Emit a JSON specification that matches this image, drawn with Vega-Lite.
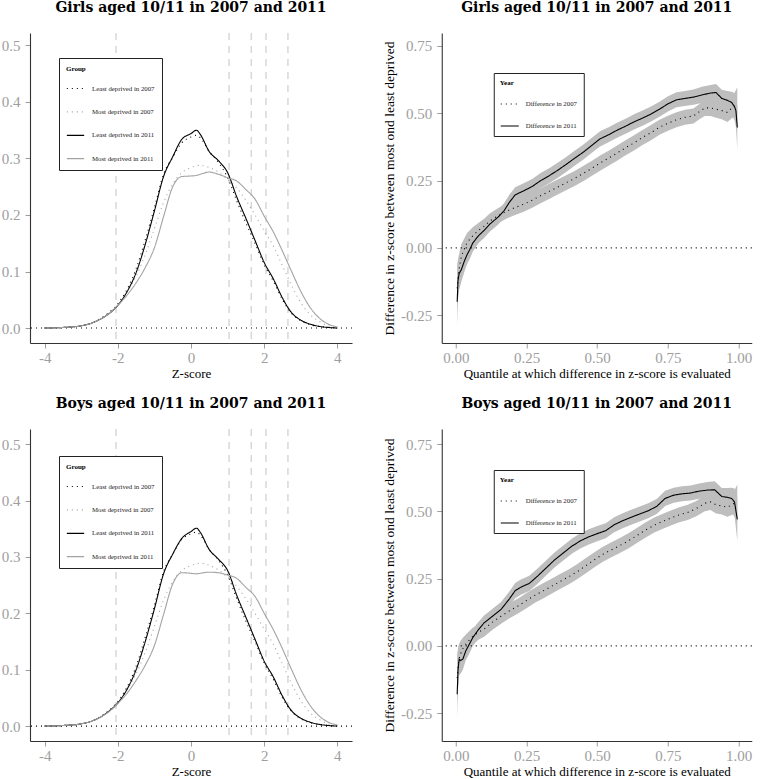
{
"$schema": "https://vega.github.io/schema/vega-lite/v6.json",
"padding": {"left": 1, "top": 0, "right": 0, "bottom": 0},
"spacing": 16,
"datasets": {
"gd": [
{"g":"Least deprived in 2007","z":-4,"d":0},{"g":"Least deprived in 2007","z":-3.5,"d":0.001},{"g":"Least deprived in 2007","z":-3,"d":0.004},{"g":"Least deprived in 2007","z":-2.75,"d":0.008},{"g":"Least deprived in 2007","z":-2.5,"d":0.016},{"g":"Least deprived in 2007","z":-2.25,"d":0.027},{"g":"Least deprived in 2007","z":-2,"d":0.043},{"g":"Least deprived in 2007","z":-1.75,"d":0.068},{"g":"Least deprived in 2007","z":-1.5,"d":0.105},{"g":"Least deprived in 2007","z":-1.25,"d":0.156},{"g":"Least deprived in 2007","z":-1,"d":0.213},{"g":"Least deprived in 2007","z":-0.75,"d":0.272},{"g":"Least deprived in 2007","z":-0.5,"d":0.302},{"g":"Least deprived in 2007","z":-0.25,"d":0.328},{"g":"Least deprived in 2007","z":0,"d":0.338},{"g":"Least deprived in 2007","z":0.15,"d":0.341},{"g":"Least deprived in 2007","z":0.25,"d":0.337},{"g":"Least deprived in 2007","z":0.5,"d":0.312},{"g":"Least deprived in 2007","z":0.75,"d":0.293},{"g":"Least deprived in 2007","z":1,"d":0.266},{"g":"Least deprived in 2007","z":1.25,"d":0.225},{"g":"Least deprived in 2007","z":1.5,"d":0.186},{"g":"Least deprived in 2007","z":1.75,"d":0.15},{"g":"Least deprived in 2007","z":2,"d":0.112},{"g":"Least deprived in 2007","z":2.25,"d":0.083},{"g":"Least deprived in 2007","z":2.5,"d":0.05},{"g":"Least deprived in 2007","z":2.75,"d":0.026},{"g":"Least deprived in 2007","z":3,"d":0.013},{"g":"Least deprived in 2007","z":3.25,"d":0.006},{"g":"Least deprived in 2007","z":3.5,"d":0.003},{"g":"Least deprived in 2007","z":3.75,"d":0.001},{"g":"Least deprived in 2007","z":4,"d":0},
{"g":"Most deprived in 2007","z":-4,"d":0},{"g":"Most deprived in 2007","z":-3.5,"d":0.001},{"g":"Most deprived in 2007","z":-3,"d":0.004},{"g":"Most deprived in 2007","z":-2.75,"d":0.008},{"g":"Most deprived in 2007","z":-2.5,"d":0.016},{"g":"Most deprived in 2007","z":-2.25,"d":0.026},{"g":"Most deprived in 2007","z":-2,"d":0.042},{"g":"Most deprived in 2007","z":-1.75,"d":0.063},{"g":"Most deprived in 2007","z":-1.5,"d":0.092},{"g":"Most deprived in 2007","z":-1.25,"d":0.13},{"g":"Most deprived in 2007","z":-1,"d":0.176},{"g":"Most deprived in 2007","z":-0.75,"d":0.222},{"g":"Most deprived in 2007","z":-0.5,"d":0.255},{"g":"Most deprived in 2007","z":-0.25,"d":0.275},{"g":"Most deprived in 2007","z":0,"d":0.284},{"g":"Most deprived in 2007","z":0.15,"d":0.287},{"g":"Most deprived in 2007","z":0.25,"d":0.288},{"g":"Most deprived in 2007","z":0.5,"d":0.284},{"g":"Most deprived in 2007","z":0.75,"d":0.276},{"g":"Most deprived in 2007","z":1,"d":0.263},{"g":"Most deprived in 2007","z":1.25,"d":0.248},{"g":"Most deprived in 2007","z":1.5,"d":0.226},{"g":"Most deprived in 2007","z":1.75,"d":0.2},{"g":"Most deprived in 2007","z":2,"d":0.172},{"g":"Most deprived in 2007","z":2.25,"d":0.145},{"g":"Most deprived in 2007","z":2.5,"d":0.11},{"g":"Most deprived in 2007","z":2.75,"d":0.075},{"g":"Most deprived in 2007","z":3,"d":0.045},{"g":"Most deprived in 2007","z":3.25,"d":0.024},{"g":"Most deprived in 2007","z":3.5,"d":0.012},{"g":"Most deprived in 2007","z":3.75,"d":0.004},{"g":"Most deprived in 2007","z":4,"d":0.001},
{"g":"Least deprived in 2011","z":-4,"d":0},{"g":"Least deprived in 2011","z":-3.5,"d":0.001},{"g":"Least deprived in 2011","z":-3,"d":0.004},{"g":"Least deprived in 2011","z":-2.75,"d":0.008},{"g":"Least deprived in 2011","z":-2.5,"d":0.015},{"g":"Least deprived in 2011","z":-2.25,"d":0.025},{"g":"Least deprived in 2011","z":-2,"d":0.04},{"g":"Least deprived in 2011","z":-1.75,"d":0.064},{"g":"Least deprived in 2011","z":-1.5,"d":0.098},{"g":"Least deprived in 2011","z":-1.25,"d":0.148},{"g":"Least deprived in 2011","z":-1,"d":0.207},{"g":"Least deprived in 2011","z":-0.75,"d":0.268},{"g":"Least deprived in 2011","z":-0.5,"d":0.303},{"g":"Least deprived in 2011","z":-0.25,"d":0.334},{"g":"Least deprived in 2011","z":0,"d":0.344},{"g":"Least deprived in 2011","z":0.15,"d":0.35},{"g":"Least deprived in 2011","z":0.25,"d":0.343},{"g":"Least deprived in 2011","z":0.5,"d":0.312},{"g":"Least deprived in 2011","z":0.75,"d":0.296},{"g":"Least deprived in 2011","z":1,"d":0.275},{"g":"Least deprived in 2011","z":1.25,"d":0.232},{"g":"Least deprived in 2011","z":1.5,"d":0.194},{"g":"Least deprived in 2011","z":1.75,"d":0.155},{"g":"Least deprived in 2011","z":2,"d":0.116},{"g":"Least deprived in 2011","z":2.25,"d":0.087},{"g":"Least deprived in 2011","z":2.5,"d":0.053},{"g":"Least deprived in 2011","z":2.75,"d":0.027},{"g":"Least deprived in 2011","z":3,"d":0.014},{"g":"Least deprived in 2011","z":3.25,"d":0.007},{"g":"Least deprived in 2011","z":3.5,"d":0.003},{"g":"Least deprived in 2011","z":3.75,"d":0.001},{"g":"Least deprived in 2011","z":4,"d":0},
{"g":"Most deprived in 2011","z":-4,"d":0},{"g":"Most deprived in 2011","z":-3.5,"d":0.001},{"g":"Most deprived in 2011","z":-3,"d":0.004},{"g":"Most deprived in 2011","z":-2.75,"d":0.008},{"g":"Most deprived in 2011","z":-2.5,"d":0.015},{"g":"Most deprived in 2011","z":-2.25,"d":0.025},{"g":"Most deprived in 2011","z":-2,"d":0.04},{"g":"Most deprived in 2011","z":-1.75,"d":0.058},{"g":"Most deprived in 2011","z":-1.5,"d":0.08},{"g":"Most deprived in 2011","z":-1.25,"d":0.107},{"g":"Most deprived in 2011","z":-1,"d":0.142},{"g":"Most deprived in 2011","z":-0.75,"d":0.197},{"g":"Most deprived in 2011","z":-0.5,"d":0.25},{"g":"Most deprived in 2011","z":-0.25,"d":0.268},{"g":"Most deprived in 2011","z":0,"d":0.269},{"g":"Most deprived in 2011","z":0.15,"d":0.27},{"g":"Most deprived in 2011","z":0.25,"d":0.272},{"g":"Most deprived in 2011","z":0.5,"d":0.276},{"g":"Most deprived in 2011","z":0.75,"d":0.272},{"g":"Most deprived in 2011","z":1,"d":0.266},{"g":"Most deprived in 2011","z":1.25,"d":0.26},{"g":"Most deprived in 2011","z":1.5,"d":0.245},{"g":"Most deprived in 2011","z":1.75,"d":0.228},{"g":"Most deprived in 2011","z":2,"d":0.198},{"g":"Most deprived in 2011","z":2.25,"d":0.17},{"g":"Most deprived in 2011","z":2.5,"d":0.136},{"g":"Most deprived in 2011","z":2.75,"d":0.1},{"g":"Most deprived in 2011","z":3,"d":0.065},{"g":"Most deprived in 2011","z":3.25,"d":0.037},{"g":"Most deprived in 2011","z":3.5,"d":0.018},{"g":"Most deprived in 2011","z":3.75,"d":0.007},{"g":"Most deprived in 2011","z":4,"d":0.002}
],
"bd": [
{"g":"Least deprived in 2007","z":-4,"d":0},{"g":"Least deprived in 2007","z":-3.5,"d":0.001},{"g":"Least deprived in 2007","z":-3,"d":0.004},{"g":"Least deprived in 2007","z":-2.75,"d":0.008},{"g":"Least deprived in 2007","z":-2.5,"d":0.016},{"g":"Least deprived in 2007","z":-2.25,"d":0.027},{"g":"Least deprived in 2007","z":-2,"d":0.044},{"g":"Least deprived in 2007","z":-1.75,"d":0.069},{"g":"Least deprived in 2007","z":-1.5,"d":0.106},{"g":"Least deprived in 2007","z":-1.25,"d":0.158},{"g":"Least deprived in 2007","z":-1,"d":0.214},{"g":"Least deprived in 2007","z":-0.75,"d":0.274},{"g":"Least deprived in 2007","z":-0.5,"d":0.305},{"g":"Least deprived in 2007","z":-0.25,"d":0.331},{"g":"Least deprived in 2007","z":0,"d":0.341},{"g":"Least deprived in 2007","z":0.15,"d":0.344},{"g":"Least deprived in 2007","z":0.25,"d":0.339},{"g":"Least deprived in 2007","z":0.5,"d":0.313},{"g":"Least deprived in 2007","z":0.75,"d":0.294},{"g":"Least deprived in 2007","z":1,"d":0.268},{"g":"Least deprived in 2007","z":1.25,"d":0.226},{"g":"Least deprived in 2007","z":1.5,"d":0.186},{"g":"Least deprived in 2007","z":1.75,"d":0.15},{"g":"Least deprived in 2007","z":2,"d":0.112},{"g":"Least deprived in 2007","z":2.25,"d":0.083},{"g":"Least deprived in 2007","z":2.5,"d":0.05},{"g":"Least deprived in 2007","z":2.75,"d":0.026},{"g":"Least deprived in 2007","z":3,"d":0.013},{"g":"Least deprived in 2007","z":3.25,"d":0.006},{"g":"Least deprived in 2007","z":3.5,"d":0.003},{"g":"Least deprived in 2007","z":3.75,"d":0.001},{"g":"Least deprived in 2007","z":4,"d":0},
{"g":"Most deprived in 2007","z":-4,"d":0},{"g":"Most deprived in 2007","z":-3.5,"d":0.001},{"g":"Most deprived in 2007","z":-3,"d":0.004},{"g":"Most deprived in 2007","z":-2.75,"d":0.008},{"g":"Most deprived in 2007","z":-2.5,"d":0.016},{"g":"Most deprived in 2007","z":-2.25,"d":0.027},{"g":"Most deprived in 2007","z":-2,"d":0.043},{"g":"Most deprived in 2007","z":-1.75,"d":0.064},{"g":"Most deprived in 2007","z":-1.5,"d":0.093},{"g":"Most deprived in 2007","z":-1.25,"d":0.131},{"g":"Most deprived in 2007","z":-1,"d":0.177},{"g":"Most deprived in 2007","z":-0.75,"d":0.223},{"g":"Most deprived in 2007","z":-0.5,"d":0.256},{"g":"Most deprived in 2007","z":-0.25,"d":0.276},{"g":"Most deprived in 2007","z":0,"d":0.285},{"g":"Most deprived in 2007","z":0.15,"d":0.288},{"g":"Most deprived in 2007","z":0.25,"d":0.289},{"g":"Most deprived in 2007","z":0.5,"d":0.285},{"g":"Most deprived in 2007","z":0.75,"d":0.277},{"g":"Most deprived in 2007","z":1,"d":0.264},{"g":"Most deprived in 2007","z":1.25,"d":0.248},{"g":"Most deprived in 2007","z":1.5,"d":0.226},{"g":"Most deprived in 2007","z":1.75,"d":0.2},{"g":"Most deprived in 2007","z":2,"d":0.172},{"g":"Most deprived in 2007","z":2.25,"d":0.145},{"g":"Most deprived in 2007","z":2.5,"d":0.11},{"g":"Most deprived in 2007","z":2.75,"d":0.075},{"g":"Most deprived in 2007","z":3,"d":0.045},{"g":"Most deprived in 2007","z":3.25,"d":0.024},{"g":"Most deprived in 2007","z":3.5,"d":0.012},{"g":"Most deprived in 2007","z":3.75,"d":0.004},{"g":"Most deprived in 2007","z":4,"d":0.001},
{"g":"Least deprived in 2011","z":-4,"d":0},{"g":"Least deprived in 2011","z":-3.5,"d":0.001},{"g":"Least deprived in 2011","z":-3,"d":0.004},{"g":"Least deprived in 2011","z":-2.75,"d":0.008},{"g":"Least deprived in 2011","z":-2.5,"d":0.015},{"g":"Least deprived in 2011","z":-2.25,"d":0.026},{"g":"Least deprived in 2011","z":-2,"d":0.041},{"g":"Least deprived in 2011","z":-1.75,"d":0.065},{"g":"Least deprived in 2011","z":-1.5,"d":0.1},{"g":"Least deprived in 2011","z":-1.25,"d":0.15},{"g":"Least deprived in 2011","z":-1,"d":0.208},{"g":"Least deprived in 2011","z":-0.75,"d":0.27},{"g":"Least deprived in 2011","z":-0.5,"d":0.305},{"g":"Least deprived in 2011","z":-0.25,"d":0.333},{"g":"Least deprived in 2011","z":0,"d":0.345},{"g":"Least deprived in 2011","z":0.15,"d":0.351},{"g":"Least deprived in 2011","z":0.25,"d":0.344},{"g":"Least deprived in 2011","z":0.5,"d":0.313},{"g":"Least deprived in 2011","z":0.75,"d":0.296},{"g":"Least deprived in 2011","z":1,"d":0.276},{"g":"Least deprived in 2011","z":1.25,"d":0.232},{"g":"Least deprived in 2011","z":1.5,"d":0.193},{"g":"Least deprived in 2011","z":1.75,"d":0.154},{"g":"Least deprived in 2011","z":2,"d":0.115},{"g":"Least deprived in 2011","z":2.25,"d":0.087},{"g":"Least deprived in 2011","z":2.5,"d":0.053},{"g":"Least deprived in 2011","z":2.75,"d":0.027},{"g":"Least deprived in 2011","z":3,"d":0.014},{"g":"Least deprived in 2011","z":3.25,"d":0.007},{"g":"Least deprived in 2011","z":3.5,"d":0.003},{"g":"Least deprived in 2011","z":3.75,"d":0.001},{"g":"Least deprived in 2011","z":4,"d":0},
{"g":"Most deprived in 2011","z":-4,"d":0},{"g":"Most deprived in 2011","z":-3.5,"d":0.001},{"g":"Most deprived in 2011","z":-3,"d":0.004},{"g":"Most deprived in 2011","z":-2.75,"d":0.008},{"g":"Most deprived in 2011","z":-2.5,"d":0.015},{"g":"Most deprived in 2011","z":-2.25,"d":0.025},{"g":"Most deprived in 2011","z":-2,"d":0.04},{"g":"Most deprived in 2011","z":-1.75,"d":0.058},{"g":"Most deprived in 2011","z":-1.5,"d":0.081},{"g":"Most deprived in 2011","z":-1.25,"d":0.108},{"g":"Most deprived in 2011","z":-1,"d":0.143},{"g":"Most deprived in 2011","z":-0.75,"d":0.198},{"g":"Most deprived in 2011","z":-0.5,"d":0.252},{"g":"Most deprived in 2011","z":-0.25,"d":0.272},{"g":"Most deprived in 2011","z":0,"d":0.271},{"g":"Most deprived in 2011","z":0.15,"d":0.27},{"g":"Most deprived in 2011","z":0.25,"d":0.271},{"g":"Most deprived in 2011","z":0.5,"d":0.273},{"g":"Most deprived in 2011","z":0.75,"d":0.272},{"g":"Most deprived in 2011","z":1,"d":0.268},{"g":"Most deprived in 2011","z":1.25,"d":0.262},{"g":"Most deprived in 2011","z":1.5,"d":0.246},{"g":"Most deprived in 2011","z":1.75,"d":0.23},{"g":"Most deprived in 2011","z":2,"d":0.2},{"g":"Most deprived in 2011","z":2.25,"d":0.171},{"g":"Most deprived in 2011","z":2.5,"d":0.137},{"g":"Most deprived in 2011","z":2.75,"d":0.1},{"g":"Most deprived in 2011","z":3,"d":0.065},{"g":"Most deprived in 2011","z":3.25,"d":0.037},{"g":"Most deprived in 2011","z":3.5,"d":0.018},{"g":"Most deprived in 2011","z":3.75,"d":0.007},{"g":"Most deprived in 2011","z":4,"d":0.002}
],
"gq": [
{"yr":"Difference in 2007","q":0.005,"v":-0.15,"lo":-0.24,"hi":-0.06},{"yr":"Difference in 2007","q":0.01,"v":-0.09,"lo":-0.15,"hi":-0.03},{"yr":"Difference in 2007","q":0.015,"v":-0.06,"lo":-0.11,"hi":-0.01},{"yr":"Difference in 2007","q":0.02,"v":-0.03,"lo":-0.075,"hi":0.015},{"yr":"Difference in 2007","q":0.03,"v":-0.005,"lo":-0.045,"hi":0.035},{"yr":"Difference in 2007","q":0.04,"v":0.02,"lo":-0.015,"hi":0.055},{"yr":"Difference in 2007","q":0.06,"v":0.045,"lo":0.013,"hi":0.077},{"yr":"Difference in 2007","q":0.08,"v":0.065,"lo":0.037,"hi":0.093},{"yr":"Difference in 2007","q":0.1,"v":0.08,"lo":0.052,"hi":0.108},{"yr":"Difference in 2007","q":0.12,"v":0.1,"lo":0.072,"hi":0.128},{"yr":"Difference in 2007","q":0.15,"v":0.12,"lo":0.092,"hi":0.148},{"yr":"Difference in 2007","q":0.18,"v":0.137,"lo":0.109,"hi":0.165},{"yr":"Difference in 2007","q":0.21,"v":0.15,"lo":0.122,"hi":0.178},{"yr":"Difference in 2007","q":0.24,"v":0.162,"lo":0.134,"hi":0.19},{"yr":"Difference in 2007","q":0.27,"v":0.177,"lo":0.149,"hi":0.205},{"yr":"Difference in 2007","q":0.3,"v":0.194,"lo":0.166,"hi":0.222},{"yr":"Difference in 2007","q":0.33,"v":0.21,"lo":0.182,"hi":0.238},{"yr":"Difference in 2007","q":0.36,"v":0.226,"lo":0.198,"hi":0.254},{"yr":"Difference in 2007","q":0.39,"v":0.242,"lo":0.214,"hi":0.27},{"yr":"Difference in 2007","q":0.42,"v":0.258,"lo":0.23,"hi":0.286},{"yr":"Difference in 2007","q":0.45,"v":0.276,"lo":0.248,"hi":0.304},{"yr":"Difference in 2007","q":0.48,"v":0.295,"lo":0.267,"hi":0.323},{"yr":"Difference in 2007","q":0.51,"v":0.315,"lo":0.287,"hi":0.343},{"yr":"Difference in 2007","q":0.54,"v":0.333,"lo":0.305,"hi":0.361},{"yr":"Difference in 2007","q":0.57,"v":0.352,"lo":0.324,"hi":0.38},{"yr":"Difference in 2007","q":0.6,"v":0.372,"lo":0.344,"hi":0.4},{"yr":"Difference in 2007","q":0.63,"v":0.39,"lo":0.362,"hi":0.418},{"yr":"Difference in 2007","q":0.66,"v":0.41,"lo":0.382,"hi":0.438},{"yr":"Difference in 2007","q":0.69,"v":0.428,"lo":0.4,"hi":0.456},{"yr":"Difference in 2007","q":0.72,"v":0.448,"lo":0.42,"hi":0.476},{"yr":"Difference in 2007","q":0.75,"v":0.463,"lo":0.435,"hi":0.491},{"yr":"Difference in 2007","q":0.78,"v":0.476,"lo":0.448,"hi":0.504},{"yr":"Difference in 2007","q":0.81,"v":0.485,"lo":0.457,"hi":0.513},{"yr":"Difference in 2007","q":0.84,"v":0.49,"lo":0.462,"hi":0.518},{"yr":"Difference in 2007","q":0.86,"v":0.505,"lo":0.477,"hi":0.533},{"yr":"Difference in 2007","q":0.88,"v":0.52,"lo":0.49,"hi":0.55},{"yr":"Difference in 2007","q":0.9,"v":0.52,"lo":0.49,"hi":0.55},{"yr":"Difference in 2007","q":0.92,"v":0.515,"lo":0.483,"hi":0.547},{"yr":"Difference in 2007","q":0.94,"v":0.51,"lo":0.478,"hi":0.542},{"yr":"Difference in 2007","q":0.96,"v":0.503,"lo":0.468,"hi":0.538},{"yr":"Difference in 2007","q":0.98,"v":0.525,"lo":0.485,"hi":0.565},{"yr":"Difference in 2007","q":0.995,"v":0.527,"lo":0.457,"hi":0.597},
{"yr":"Difference in 2011","q":0.005,"v":-0.2,"lo":-0.29,"hi":-0.11},{"yr":"Difference in 2011","q":0.008,"v":-0.12,"lo":-0.19,"hi":-0.05},{"yr":"Difference in 2011","q":0.012,"v":-0.095,"lo":-0.155,"hi":-0.035},{"yr":"Difference in 2011","q":0.02,"v":-0.08,"lo":-0.125,"hi":-0.035},{"yr":"Difference in 2011","q":0.03,"v":-0.05,"lo":-0.09,"hi":-0.01},{"yr":"Difference in 2011","q":0.04,"v":-0.025,"lo":-0.06,"hi":0.01},{"yr":"Difference in 2011","q":0.05,"v":-0.005,"lo":-0.04,"hi":0.03},{"yr":"Difference in 2011","q":0.06,"v":0.018,"lo":-0.014,"hi":0.05},{"yr":"Difference in 2011","q":0.08,"v":0.045,"lo":0.017,"hi":0.073},{"yr":"Difference in 2011","q":0.1,"v":0.065,"lo":0.037,"hi":0.093},{"yr":"Difference in 2011","q":0.12,"v":0.088,"lo":0.06,"hi":0.116},{"yr":"Difference in 2011","q":0.15,"v":0.115,"lo":0.087,"hi":0.143},{"yr":"Difference in 2011","q":0.17,"v":0.137,"lo":0.109,"hi":0.165},{"yr":"Difference in 2011","q":0.19,"v":0.17,"lo":0.142,"hi":0.198},{"yr":"Difference in 2011","q":0.21,"v":0.197,"lo":0.169,"hi":0.225},{"yr":"Difference in 2011","q":0.24,"v":0.212,"lo":0.184,"hi":0.24},{"yr":"Difference in 2011","q":0.27,"v":0.228,"lo":0.2,"hi":0.256},{"yr":"Difference in 2011","q":0.3,"v":0.25,"lo":0.222,"hi":0.278},{"yr":"Difference in 2011","q":0.33,"v":0.268,"lo":0.24,"hi":0.296},{"yr":"Difference in 2011","q":0.36,"v":0.288,"lo":0.26,"hi":0.316},{"yr":"Difference in 2011","q":0.39,"v":0.31,"lo":0.282,"hi":0.338},{"yr":"Difference in 2011","q":0.42,"v":0.333,"lo":0.305,"hi":0.361},{"yr":"Difference in 2011","q":0.45,"v":0.355,"lo":0.327,"hi":0.383},{"yr":"Difference in 2011","q":0.48,"v":0.38,"lo":0.352,"hi":0.408},{"yr":"Difference in 2011","q":0.51,"v":0.405,"lo":0.377,"hi":0.433},{"yr":"Difference in 2011","q":0.54,"v":0.42,"lo":0.392,"hi":0.448},{"yr":"Difference in 2011","q":0.57,"v":0.437,"lo":0.409,"hi":0.465},{"yr":"Difference in 2011","q":0.6,"v":0.452,"lo":0.424,"hi":0.48},{"yr":"Difference in 2011","q":0.63,"v":0.468,"lo":0.44,"hi":0.496},{"yr":"Difference in 2011","q":0.66,"v":0.482,"lo":0.454,"hi":0.51},{"yr":"Difference in 2011","q":0.69,"v":0.497,"lo":0.469,"hi":0.525},{"yr":"Difference in 2011","q":0.72,"v":0.515,"lo":0.487,"hi":0.543},{"yr":"Difference in 2011","q":0.75,"v":0.535,"lo":0.507,"hi":0.563},{"yr":"Difference in 2011","q":0.78,"v":0.55,"lo":0.522,"hi":0.578},{"yr":"Difference in 2011","q":0.81,"v":0.555,"lo":0.527,"hi":0.583},{"yr":"Difference in 2011","q":0.84,"v":0.56,"lo":0.532,"hi":0.588},{"yr":"Difference in 2011","q":0.87,"v":0.568,"lo":0.538,"hi":0.598},{"yr":"Difference in 2011","q":0.9,"v":0.575,"lo":0.545,"hi":0.605},{"yr":"Difference in 2011","q":0.92,"v":0.577,"lo":0.545,"hi":0.609},{"yr":"Difference in 2011","q":0.94,"v":0.555,"lo":0.523,"hi":0.587},{"yr":"Difference in 2011","q":0.96,"v":0.548,"lo":0.513,"hi":0.583},{"yr":"Difference in 2011","q":0.975,"v":0.54,"lo":0.5,"hi":0.58},{"yr":"Difference in 2011","q":0.985,"v":0.525,"lo":0.475,"hi":0.575},{"yr":"Difference in 2011","q":0.99,"v":0.51,"lo":0.45,"hi":0.57},{"yr":"Difference in 2011","q":0.995,"v":0.447,"lo":0.367,"hi":0.527}
],
"bq": [
{"yr":"Difference in 2007","q":0.005,"v":-0.12,"lo":-0.21,"hi":-0.03},{"yr":"Difference in 2007","q":0.01,"v":-0.06,"lo":-0.12,"hi":0},{"yr":"Difference in 2007","q":0.015,"v":-0.035,"lo":-0.085,"hi":0.015},{"yr":"Difference in 2007","q":0.025,"v":-0.01,"lo":-0.05,"hi":0.03},{"yr":"Difference in 2007","q":0.04,"v":0.012,"lo":-0.023,"hi":0.047},{"yr":"Difference in 2007","q":0.06,"v":0.035,"lo":0.003,"hi":0.067},{"yr":"Difference in 2007","q":0.08,"v":0.05,"lo":0.022,"hi":0.078},{"yr":"Difference in 2007","q":0.1,"v":0.062,"lo":0.034,"hi":0.09},{"yr":"Difference in 2007","q":0.13,"v":0.088,"lo":0.06,"hi":0.116},{"yr":"Difference in 2007","q":0.16,"v":0.11,"lo":0.082,"hi":0.138},{"yr":"Difference in 2007","q":0.19,"v":0.13,"lo":0.102,"hi":0.158},{"yr":"Difference in 2007","q":0.22,"v":0.148,"lo":0.12,"hi":0.176},{"yr":"Difference in 2007","q":0.25,"v":0.168,"lo":0.14,"hi":0.196},{"yr":"Difference in 2007","q":0.28,"v":0.188,"lo":0.16,"hi":0.216},{"yr":"Difference in 2007","q":0.31,"v":0.205,"lo":0.177,"hi":0.233},{"yr":"Difference in 2007","q":0.34,"v":0.222,"lo":0.194,"hi":0.25},{"yr":"Difference in 2007","q":0.37,"v":0.24,"lo":0.212,"hi":0.268},{"yr":"Difference in 2007","q":0.4,"v":0.257,"lo":0.229,"hi":0.285},{"yr":"Difference in 2007","q":0.43,"v":0.276,"lo":0.248,"hi":0.304},{"yr":"Difference in 2007","q":0.46,"v":0.298,"lo":0.27,"hi":0.326},{"yr":"Difference in 2007","q":0.49,"v":0.32,"lo":0.292,"hi":0.348},{"yr":"Difference in 2007","q":0.52,"v":0.34,"lo":0.312,"hi":0.368},{"yr":"Difference in 2007","q":0.55,"v":0.357,"lo":0.329,"hi":0.385},{"yr":"Difference in 2007","q":0.58,"v":0.373,"lo":0.345,"hi":0.401},{"yr":"Difference in 2007","q":0.61,"v":0.39,"lo":0.362,"hi":0.418},{"yr":"Difference in 2007","q":0.64,"v":0.41,"lo":0.382,"hi":0.438},{"yr":"Difference in 2007","q":0.67,"v":0.43,"lo":0.402,"hi":0.458},{"yr":"Difference in 2007","q":0.7,"v":0.448,"lo":0.42,"hi":0.476},{"yr":"Difference in 2007","q":0.73,"v":0.462,"lo":0.434,"hi":0.49},{"yr":"Difference in 2007","q":0.76,"v":0.475,"lo":0.447,"hi":0.503},{"yr":"Difference in 2007","q":0.79,"v":0.487,"lo":0.459,"hi":0.515},{"yr":"Difference in 2007","q":0.82,"v":0.496,"lo":0.468,"hi":0.524},{"yr":"Difference in 2007","q":0.85,"v":0.51,"lo":0.482,"hi":0.538},{"yr":"Difference in 2007","q":0.88,"v":0.53,"lo":0.5,"hi":0.56},{"yr":"Difference in 2007","q":0.9,"v":0.535,"lo":0.505,"hi":0.565},{"yr":"Difference in 2007","q":0.92,"v":0.524,"lo":0.492,"hi":0.556},{"yr":"Difference in 2007","q":0.94,"v":0.52,"lo":0.488,"hi":0.552},{"yr":"Difference in 2007","q":0.96,"v":0.515,"lo":0.48,"hi":0.55},{"yr":"Difference in 2007","q":0.98,"v":0.528,"lo":0.488,"hi":0.568},{"yr":"Difference in 2007","q":0.995,"v":0.53,"lo":0.46,"hi":0.6},
{"yr":"Difference in 2011","q":0.005,"v":-0.18,"lo":-0.27,"hi":-0.09},{"yr":"Difference in 2011","q":0.008,"v":-0.09,"lo":-0.16,"hi":-0.02},{"yr":"Difference in 2011","q":0.012,"v":-0.05,"lo":-0.11,"hi":0.01},{"yr":"Difference in 2011","q":0.016,"v":-0.055,"lo":-0.105,"hi":-0.005},{"yr":"Difference in 2011","q":0.025,"v":-0.05,"lo":-0.09,"hi":-0.01},{"yr":"Difference in 2011","q":0.035,"v":-0.02,"lo":-0.055,"hi":0.015},{"yr":"Difference in 2011","q":0.045,"v":0,"lo":-0.035,"hi":0.035},{"yr":"Difference in 2011","q":0.06,"v":0.03,"lo":-0.002,"hi":0.062},{"yr":"Difference in 2011","q":0.08,"v":0.06,"lo":0.032,"hi":0.088},{"yr":"Difference in 2011","q":0.1,"v":0.085,"lo":0.057,"hi":0.113},{"yr":"Difference in 2011","q":0.13,"v":0.11,"lo":0.082,"hi":0.138},{"yr":"Difference in 2011","q":0.16,"v":0.135,"lo":0.107,"hi":0.163},{"yr":"Difference in 2011","q":0.19,"v":0.175,"lo":0.147,"hi":0.203},{"yr":"Difference in 2011","q":0.21,"v":0.205,"lo":0.177,"hi":0.233},{"yr":"Difference in 2011","q":0.23,"v":0.218,"lo":0.19,"hi":0.246},{"yr":"Difference in 2011","q":0.26,"v":0.232,"lo":0.204,"hi":0.26},{"yr":"Difference in 2011","q":0.29,"v":0.26,"lo":0.232,"hi":0.288},{"yr":"Difference in 2011","q":0.32,"v":0.29,"lo":0.262,"hi":0.318},{"yr":"Difference in 2011","q":0.35,"v":0.32,"lo":0.292,"hi":0.348},{"yr":"Difference in 2011","q":0.38,"v":0.345,"lo":0.317,"hi":0.373},{"yr":"Difference in 2011","q":0.41,"v":0.37,"lo":0.342,"hi":0.398},{"yr":"Difference in 2011","q":0.44,"v":0.39,"lo":0.362,"hi":0.418},{"yr":"Difference in 2011","q":0.47,"v":0.405,"lo":0.377,"hi":0.433},{"yr":"Difference in 2011","q":0.5,"v":0.417,"lo":0.389,"hi":0.445},{"yr":"Difference in 2011","q":0.53,"v":0.428,"lo":0.4,"hi":0.456},{"yr":"Difference in 2011","q":0.56,"v":0.45,"lo":0.422,"hi":0.478},{"yr":"Difference in 2011","q":0.59,"v":0.465,"lo":0.437,"hi":0.493},{"yr":"Difference in 2011","q":0.62,"v":0.478,"lo":0.45,"hi":0.506},{"yr":"Difference in 2011","q":0.65,"v":0.49,"lo":0.462,"hi":0.518},{"yr":"Difference in 2011","q":0.68,"v":0.502,"lo":0.474,"hi":0.53},{"yr":"Difference in 2011","q":0.71,"v":0.518,"lo":0.49,"hi":0.546},{"yr":"Difference in 2011","q":0.74,"v":0.548,"lo":0.52,"hi":0.576},{"yr":"Difference in 2011","q":0.77,"v":0.56,"lo":0.532,"hi":0.588},{"yr":"Difference in 2011","q":0.8,"v":0.565,"lo":0.537,"hi":0.593},{"yr":"Difference in 2011","q":0.83,"v":0.568,"lo":0.54,"hi":0.596},{"yr":"Difference in 2011","q":0.86,"v":0.575,"lo":0.547,"hi":0.603},{"yr":"Difference in 2011","q":0.89,"v":0.579,"lo":0.549,"hi":0.609},{"yr":"Difference in 2011","q":0.915,"v":0.58,"lo":0.548,"hi":0.612},{"yr":"Difference in 2011","q":0.94,"v":0.555,"lo":0.523,"hi":0.587},{"yr":"Difference in 2011","q":0.96,"v":0.552,"lo":0.517,"hi":0.587},{"yr":"Difference in 2011","q":0.975,"v":0.548,"lo":0.508,"hi":0.588},{"yr":"Difference in 2011","q":0.985,"v":0.535,"lo":0.485,"hi":0.585},{"yr":"Difference in 2011","q":0.995,"v":0.47,"lo":0.39,"hi":0.55}
]
},
"config": {
"view": {"stroke": null},
"font": "Liberation Serif",
"title": {"font": "DejaVu Serif", "fontSize": 14, "fontWeight": "bold", "offset": 18, "color": "#000", "anchor": "middle", "frame": "group"},
"axis": {"grid": false, "domainColor": "#333", "domainWidth": 1.1, "tickColor": "#9e9e9e", "tickSize": 5, "tickWidth": 1, "labelColor": "#9e9e9e", "labelFont": "Liberation Serif", "labelFontSize": 15, "titleFont": "Liberation Serif", "titleFontSize": 13.5, "titleFontWeight": "normal", "titleColor": "#000", "labelFlush": false, "labelOverlap": false},
"axisX": {"labelPadding": 2, "titlePadding": 2, "titleFontSize": 13},
"axisY": {"labelPadding": 5, "titlePadding": 4},
"legend": {"orient": "none", "strokeColor": "#222", "fillColor": "#fff", "labelFont": "Liberation Serif", "labelFontSize": 6.8, "labelColor": "#222", "titleFont": "Liberation Serif", "titleFontSize": 7, "titleFontWeight": "bold", "titleColor": "#000", "symbolType": "stroke"}
},
"resolve": {"scale": {"x": "independent", "y": "independent", "color": "independent", "strokeDash": "independent"}, "legend": {"color": "independent", "strokeDash": "independent"}},
"vconcat": [
{
"spacing": 28.75,
"resolve": {"scale": {"x": "independent", "y": "independent", "color": "independent", "strokeDash": "independent"}, "legend": {"color": "independent", "strokeDash": "independent"}},
"hconcat": [
{
"width": 322, "height": 310,
"title": "Girls aged 10/11 in 2007 and 2011",
"layer": [
{"data": {"values": [{"z": -2.05}, {"z": 1.04}, {"z": 1.645}, {"z": 2.05}, {"z": 2.65}]},
 "mark": {"type": "rule", "color": "#c4c4c4", "strokeDash": [7, 6], "strokeWidth": 1},
 "encoding": {"x": {"field": "z", "type": "quantitative", "scale": {"domain": [-4.4, 4.4], "nice": false, "zero": false}, "axis": {"values": [-4, -2, 0, 2, 4], "title": "Z-score", "labelExpr": "replace(datum.label, '\u2212', '-')"}}}},
{"data": {"values": [{"d": 0}]},
 "mark": {"type": "rule", "color": "#000", "strokeDash": [1, 4], "strokeWidth": 1.2},
 "encoding": {"y": {"field": "d", "type": "quantitative", "scale": {"domain": [-0.0265, 0.522], "nice": false, "zero": false}, "axis": {"values": [0, 0.1, 0.2, 0.3, 0.4, 0.5], "format": ".1f", "title": null}}}},
{"data": {"name": "gd"},
 "mark": {"type": "line", "interpolate": "monotone", "strokeWidth": 1.1, "clip": true},
 "encoding": {
  "x": {"field": "z", "type": "quantitative", "scale": {"domain": [-4.4, 4.4], "nice": false, "zero": false}, "axis": {"values": [-4, -2, 0, 2, 4], "title": "Z-score", "labelExpr": "replace(datum.label, '\u2212', '-')"}},
  "y": {"field": "d", "type": "quantitative", "scale": {"domain": [-0.0265, 0.522], "nice": false, "zero": false}, "axis": {"values": [0, 0.1, 0.2, 0.3, 0.4, 0.5], "format": ".1f", "title": null}},
  "color": {"field": "g", "type": "nominal", "scale": {"domain": ["Least deprived in 2007", "Most deprived in 2007", "Least deprived in 2011", "Most deprived in 2011"], "range": ["#000000", "#a3a3a3", "#000000", "#a3a3a3"]}, "legend": {"title": "Group", "legendX": 29, "legendY": 25, "padding": 7, "rowPadding": 9.4, "titlePadding": 7, "labelOffset": 7, "symbolSize": 300, "symbolStrokeWidth": 1.2}},
  "strokeDash": {"field": "g", "type": "nominal", "scale": {"domain": ["Least deprived in 2007", "Most deprived in 2007", "Least deprived in 2011", "Most deprived in 2011"], "range": [[1, 4], [1, 4], [1, 0], [1, 0]]}, "legend": {"title": "Group", "legendX": 29, "legendY": 25, "padding": 7, "rowPadding": 9.4, "titlePadding": 7, "labelOffset": 7, "symbolSize": 300, "symbolStrokeWidth": 1.2}}
 }}
]
},
{
"width": 310, "height": 310,
"title": "Girls aged 10/11 in 2007 and 2011",
"layer": [
{"data": {"name": "gq"},
 "mark": {"type": "area", "color": "#bebebe", "opacity": 1, "clip": true},
 "encoding": {
  "x": {"field": "q", "type": "quantitative", "scale": {"domain": [-0.0495, 1.046], "nice": false, "zero": false}, "axis": {"values": [0, 0.25, 0.5, 0.75, 1], "format": ".2f", "title": "Quantile at which difference in z-score is evaluated"}},
  "y": {"field": "lo", "type": "quantitative", "scale": {"domain": [-0.353, 0.798], "nice": false, "zero": false}, "axis": {"values": [-0.25, 0, 0.25, 0.5, 0.75], "format": ".2f", "title": "Difference in z-score between most ond least deprived", "labelExpr": "replace(datum.label, '\u2212', '-')"}},
  "y2": {"field": "hi"},
  "detail": {"field": "yr", "type": "nominal"}
 }},
{"data": {"values": [{"v": 0}]},
 "mark": {"type": "rule", "color": "#000", "strokeDash": [1, 4], "strokeWidth": 1.2},
 "encoding": {"y": {"field": "v", "type": "quantitative", "scale": {"domain": [-0.353, 0.798], "nice": false, "zero": false}, "axis": {"values": [-0.25, 0, 0.25, 0.5, 0.75], "format": ".2f", "title": "Difference in z-score between most ond least deprived", "labelExpr": "replace(datum.label, '\u2212', '-')"}}}},
{"data": {"name": "gq"},
 "mark": {"type": "line", "color": "#000", "strokeWidth": 1.1, "clip": true},
 "encoding": {
  "x": {"field": "q", "type": "quantitative", "scale": {"domain": [-0.0495, 1.046], "nice": false, "zero": false}, "axis": {"values": [0, 0.25, 0.5, 0.75, 1], "format": ".2f", "title": "Quantile at which difference in z-score is evaluated"}},
  "y": {"field": "v", "type": "quantitative", "scale": {"domain": [-0.353, 0.798], "nice": false, "zero": false}, "axis": {"values": [-0.25, 0, 0.25, 0.5, 0.75], "format": ".2f", "title": "Difference in z-score between most ond least deprived", "labelExpr": "replace(datum.label, '\u2212', '-')"}},
  "strokeDash": {"field": "yr", "type": "nominal", "scale": {"domain": ["Difference in 2007", "Difference in 2011"], "range": [[1, 4], [1, 0]]}, "legend": {"title": "Year", "legendX": 52, "legendY": 40, "padding": 6, "rowPadding": 8, "titlePadding": 8, "labelOffset": 6, "symbolSize": 324, "symbolStrokeWidth": 1.2, "symbolStrokeColor": "#000"}}
 }}
]
}
]
},
{
"spacing": 28.75,
"resolve": {"scale": {"x": "independent", "y": "independent", "color": "independent", "strokeDash": "independent"}, "legend": {"color": "independent", "strokeDash": "independent"}},
"hconcat": [
{
"width": 322, "height": 312,
"title": "Boys aged 10/11 in 2007 and 2011",
"layer": [
{"data": {"values": [{"z": -2.05}, {"z": 1.04}, {"z": 1.645}, {"z": 2.05}, {"z": 2.65}]},
 "mark": {"type": "rule", "color": "#c4c4c4", "strokeDash": [7, 6], "strokeWidth": 1},
 "encoding": {"x": {"field": "z", "type": "quantitative", "scale": {"domain": [-4.4, 4.4], "nice": false, "zero": false}, "axis": {"values": [-4, -2, 0, 2, 4], "title": "Z-score", "labelExpr": "replace(datum.label, '\u2212', '-')"}}}},
{"data": {"values": [{"d": 0}]},
 "mark": {"type": "rule", "color": "#000", "strokeDash": [1, 4], "strokeWidth": 1.2},
 "encoding": {"y": {"field": "d", "type": "quantitative", "scale": {"domain": [-0.0265, 0.527], "nice": false, "zero": false}, "axis": {"values": [0, 0.1, 0.2, 0.3, 0.4, 0.5], "format": ".1f", "title": null}}}},
{"data": {"name": "bd"},
 "mark": {"type": "line", "interpolate": "monotone", "strokeWidth": 1.1, "clip": true},
 "encoding": {
  "x": {"field": "z", "type": "quantitative", "scale": {"domain": [-4.4, 4.4], "nice": false, "zero": false}, "axis": {"values": [-4, -2, 0, 2, 4], "title": "Z-score", "labelExpr": "replace(datum.label, '\u2212', '-')"}},
  "y": {"field": "d", "type": "quantitative", "scale": {"domain": [-0.0265, 0.527], "nice": false, "zero": false}, "axis": {"values": [0, 0.1, 0.2, 0.3, 0.4, 0.5], "format": ".1f", "title": null}},
  "color": {"field": "g", "type": "nominal", "scale": {"domain": ["Least deprived in 2007", "Most deprived in 2007", "Least deprived in 2011", "Most deprived in 2011"], "range": ["#000000", "#a3a3a3", "#000000", "#a3a3a3"]}, "legend": {"title": "Group", "legendX": 29, "legendY": 27, "padding": 7, "rowPadding": 9.4, "titlePadding": 7, "labelOffset": 7, "symbolSize": 300, "symbolStrokeWidth": 1.2}},
  "strokeDash": {"field": "g", "type": "nominal", "scale": {"domain": ["Least deprived in 2007", "Most deprived in 2007", "Least deprived in 2011", "Most deprived in 2011"], "range": [[1, 4], [1, 4], [1, 0], [1, 0]]}, "legend": {"title": "Group", "legendX": 29, "legendY": 27, "padding": 7, "rowPadding": 9.4, "titlePadding": 7, "labelOffset": 7, "symbolSize": 300, "symbolStrokeWidth": 1.2}}
 }}
]
},
{
"width": 310, "height": 312,
"title": "Boys aged 10/11 in 2007 and 2011",
"layer": [
{"data": {"name": "bq"},
 "mark": {"type": "area", "color": "#bebebe", "opacity": 1, "clip": true},
 "encoding": {
  "x": {"field": "q", "type": "quantitative", "scale": {"domain": [-0.0495, 1.046], "nice": false, "zero": false}, "axis": {"values": [0, 0.25, 0.5, 0.75, 1], "format": ".2f", "title": "Quantile at which difference in z-score is evaluated"}},
  "y": {"field": "lo", "type": "quantitative", "scale": {"domain": [-0.354, 0.806], "nice": false, "zero": false}, "axis": {"values": [-0.25, 0, 0.25, 0.5, 0.75], "format": ".2f", "title": "Difference in z-score between most ond least deprived", "labelExpr": "replace(datum.label, '\u2212', '-')"}},
  "y2": {"field": "hi"},
  "detail": {"field": "yr", "type": "nominal"}
 }},
{"data": {"values": [{"v": 0}]},
 "mark": {"type": "rule", "color": "#000", "strokeDash": [1, 4], "strokeWidth": 1.2},
 "encoding": {"y": {"field": "v", "type": "quantitative", "scale": {"domain": [-0.354, 0.806], "nice": false, "zero": false}, "axis": {"values": [-0.25, 0, 0.25, 0.5, 0.75], "format": ".2f", "title": "Difference in z-score between most ond least deprived", "labelExpr": "replace(datum.label, '\u2212', '-')"}}}},
{"data": {"name": "bq"},
 "mark": {"type": "line", "color": "#000", "strokeWidth": 1.1, "clip": true},
 "encoding": {
  "x": {"field": "q", "type": "quantitative", "scale": {"domain": [-0.0495, 1.046], "nice": false, "zero": false}, "axis": {"values": [0, 0.25, 0.5, 0.75, 1], "format": ".2f", "title": "Quantile at which difference in z-score is evaluated"}},
  "y": {"field": "v", "type": "quantitative", "scale": {"domain": [-0.354, 0.806], "nice": false, "zero": false}, "axis": {"values": [-0.25, 0, 0.25, 0.5, 0.75], "format": ".2f", "title": "Difference in z-score between most ond least deprived", "labelExpr": "replace(datum.label, '\u2212', '-')"}},
  "strokeDash": {"field": "yr", "type": "nominal", "scale": {"domain": ["Difference in 2007", "Difference in 2011"], "range": [[1, 4], [1, 0]]}, "legend": {"title": "Year", "legendX": 52, "legendY": 41, "padding": 6, "rowPadding": 8, "titlePadding": 8, "labelOffset": 6, "symbolSize": 324, "symbolStrokeWidth": 1.2, "symbolStrokeColor": "#000"}}
 }}
]
}
]
}
]
}
